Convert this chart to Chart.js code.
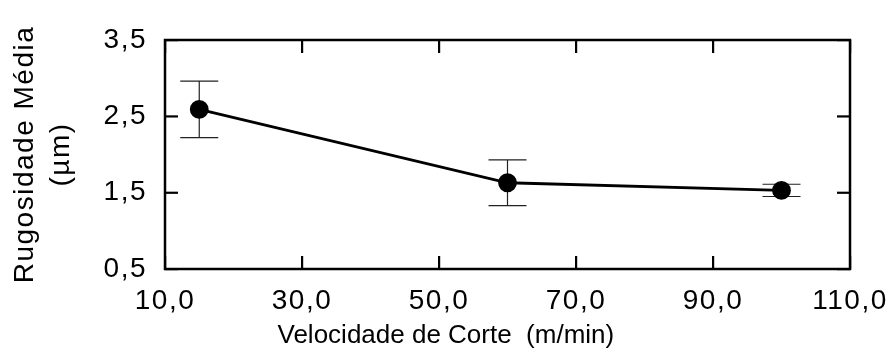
<!DOCTYPE html>
<html>
<head>
<meta charset="utf-8">
<script src="https://cdn.jsdelivr.net/npm/chart.js@4/dist/chart.umd.min.js"></script>
<style>
  html, body { margin: 0; padding: 0; background: #fff; }
  canvas { display: block; }
</style>
</head>
<body>
<canvas id="grafico" width="889" height="358"></canvas>
<script>
// dados
const velocidade = [15, 60, 100];
const rugosidade = [2.59, 1.63, 1.53];
const desvio = [0.37, 0.30, 0.08];
const xTicks = [10, 30, 50, 70, 90, 110];
const yTicks = [0.5, 1.5, 2.5, 3.5];
const tituloX = "Velocidade de Corte  (m/min)";
const tituloY = ["Rugosidade Média", "(µm)"];

const fonte = "'Liberation Sans', Arial, sans-serif";

function virgula(v){
	return Number(v).toFixed(1).replace('.', ',');
}

// espacamento das letras nos textos dos eixos (como no original)
const espacamento = {
	id: 'espacamento',
	beforeDraw(chart){ chart.ctx.letterSpacing = '1.5px'; },
	beforeDatasetsDraw(chart){ chart.ctx.letterSpacing = '0px'; }
};

// barras de erro desenhadas pelas escalas do proprio chart
const barrasErro = {
	id: 'barrasErro',
	beforeDatasetsDraw(chart){
		const ctx = chart.ctx;
		const sx = chart.scales.x, sy = chart.scales.y;
		ctx.save();
		ctx.strokeStyle = '#222';
		ctx.lineWidth = 1.2;
		for(let i=0; i<velocidade.length; i++){
			const px = sx.getPixelForValue(velocidade[i]);
			const top = sy.getPixelForValue(rugosidade[i] + desvio[i]);
			const bot = sy.getPixelForValue(rugosidade[i] - desvio[i]);
			ctx.beginPath();
			ctx.moveTo(px, top); ctx.lineTo(px, bot);
			ctx.moveTo(px-19, top); ctx.lineTo(px+19, top);
			ctx.moveTo(px-19, bot); ctx.lineTo(px+19, bot);
			ctx.stroke();
		}
		ctx.restore();
	}
};

// moldura com marcas para dentro e titulo do eixo x
const moldura = {
	id: 'moldura',
	afterDraw(chart){
		const ctx = chart.ctx;
		const a = chart.chartArea;
		const sx = chart.scales.x, sy = chart.scales.y;
		const len = 13;
		ctx.save();
		ctx.letterSpacing = '0px';
		ctx.strokeStyle = '#000';
		ctx.lineWidth = 2.5;
		ctx.strokeRect(a.left, a.top, a.right-a.left, a.bottom-a.top);

		ctx.fillStyle = '#000';
		xTicks.forEach(function(t){
			const px = sx.getPixelForValue(t);
			ctx.fillRect(px-1, a.bottom-len, 2.2, len);
			ctx.fillRect(px-1, a.top, 2.2, len);
		});
		yTicks.forEach(function(t){
			const py = sy.getPixelForValue(t);
			ctx.fillRect(a.left, py-1, len, 2.2);
			ctx.fillRect(a.right-len, py-1, len, 2.2);
		});

		ctx.font = "26px " + fonte;
		ctx.textAlign = 'center';
		ctx.textBaseline = 'middle';
		ctx.fillText(tituloX, a.left + (a.right-a.left)*0.41, 336);
		ctx.restore();
	}
};

const ctx = document.getElementById('grafico').getContext('2d');
const config = {
	type: 'line',
	data: {
		datasets: [{
			label: "Rugosidade Média",
			data: velocidade.map(function(v, i){ return {x: v, y: rugosidade[i]}; }),
			borderColor: '#000',
			backgroundColor: '#000',
			borderWidth: 2.8,
			pointRadius: 8,
			pointHoverRadius: 8,
			tension: 0,
			fill: false
		}]
	},
	options: {
		responsive: false,
		animation: false,
		layout: { padding: { top: 40, right: 39, left: 0, bottom: 0 } },
		plugins: {
			legend: { display: false },
			tooltip: { enabled: false }
		},
		scales: {
			x: {
				type: 'linear',
				min: 10, max: 110,
				afterBuildTicks(scale){ scale.ticks = xTicks.map(function(v){ return {value: v}; }); },
				afterFit(scale){ scale.height = 89; scale.paddingLeft = 0; scale.paddingRight = 0; },
				grid: { display: false, drawTicks: false },
				border: { display: false },
				ticks: {
					color: '#000',
					padding: 15,
					maxRotation: 0,
					font: { family: fonte, size: 28 },
					callback: virgula
				},
				title: { display: false }
			},
			y: {
				type: 'linear',
				min: 0.5, max: 3.5,
				afterBuildTicks(scale){ scale.ticks = yTicks.map(function(v){ return {value: v}; }); },
				afterFit(scale){ scale.width = 165; scale.paddingTop = 0; scale.paddingBottom = 0; },
				grid: { display: false, drawTicks: false },
				border: { display: false },
				ticks: {
					color: '#000',
					padding: 18,
					font: { family: fonte, size: 28 },
					callback: virgula
				},
				title: {
					display: true,
					text: tituloY,
					color: '#000',
					padding: { top: 7, bottom: 0 },
					font: { family: fonte, size: 28, lineHeight: 1.3 }
				}
			}
		}
	},
	plugins: [espacamento, barrasErro, moldura]
};
const grafico = new Chart(ctx, config);
</script>
</body>
</html>
